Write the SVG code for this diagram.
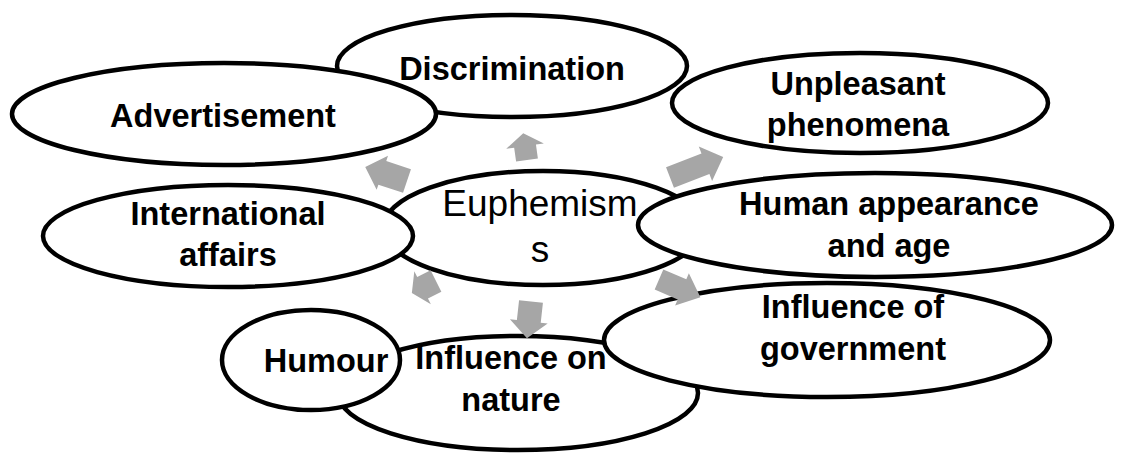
<svg xmlns="http://www.w3.org/2000/svg" width="1128" height="454" viewBox="0 0 1128 454">
  <defs>
    <style>
      .node ellipse { fill: #ffffff; stroke: #000000; stroke-width: 4.5; }
      .lbl { font-family: "Liberation Sans", Arial, sans-serif; font-weight: bold; font-size: 32.5px; fill: #000000; text-anchor: middle; }
      .center { font-family: "Liberation Sans", Arial, sans-serif; font-weight: normal; font-size: 37px; fill: #000000; text-anchor: middle; }
      .arrow { fill: #a6a6a6; stroke: none; }
    </style>
  </defs>
  <rect width="1128" height="454" fill="#ffffff"/>

  <g id="node-discrimination" class="node">
    <ellipse cx="512" cy="66" rx="175" ry="51"/>
    <text class="lbl" x="512" y="80">Discrimination</text>
  </g>
  <g id="node-advertisement" class="node">
    <ellipse cx="224" cy="114" rx="212" ry="51"/>
    <text class="lbl" x="223" y="127">Advertisement</text>
  </g>
  <g id="node-unpleasant" class="node">
    <ellipse cx="860" cy="103" rx="188" ry="50"/>
    <text class="lbl" x="858" y="95">Unpleasant</text>
    <text class="lbl" x="858" y="136">phenomena</text>
  </g>
  <g id="node-euphemisms" class="node">
    <ellipse cx="543" cy="228" rx="160" ry="57"/>
    <text class="center" x="540" y="216">Euphemism</text>
    <text class="center" x="540" y="262">s</text>
  </g>
  <g id="node-international" class="node">
    <ellipse cx="228" cy="236" rx="185" ry="51"/>
    <text class="lbl" x="228" y="225">International</text>
    <text class="lbl" x="228" y="266">affairs</text>
  </g>
  <g id="node-human" class="node">
    <ellipse cx="875" cy="225" rx="237" ry="52"/>
    <text class="lbl" x="889" y="215">Human appearance</text>
    <text class="lbl" x="889" y="257">and age</text>
  </g>
  <g id="node-nature" class="node">
    <ellipse cx="518" cy="393" rx="180" ry="57"/>
    <text class="lbl" x="511" y="369">Influence on</text>
    <text class="lbl" x="511" y="411">nature</text>
  </g>
  <g id="node-humour" class="node">
    <ellipse cx="311" cy="360" rx="89" ry="50"/>
    <text class="lbl" x="326" y="372">Humour</text>
  </g>
  <g id="node-government" class="node">
    <ellipse cx="827" cy="340" rx="223" ry="57"/>
    <text class="lbl" x="853" y="318">Influence of</text>
    <text class="lbl" x="853" y="360">government</text>
  </g>

  <g id="connectors">
    <polygon class="arrow" transform="translate(527,160) rotate(-98)" points="0,-11 14,-11 14,-19 27,0 14,19 14,11 0,11"/>
    <polygon class="arrow" transform="translate(407,181) rotate(198.4)" points="0,-12.5 26,-12.5 26,-18 44,0 26,18 26,12.5 0,12.5"/>
    <polygon class="arrow" transform="translate(670,177.5) rotate(-21.1)" points="0,-11 38,-11 38,-18.5 57,0 38,18.5 38,11 0,11"/>
    <polygon class="arrow" transform="translate(436,281) rotate(153.4)" points="0,-12 15,-12 15,-18.5 27,0 15,18.5 15,12 0,12"/>
    <polygon class="arrow" transform="translate(531,301.5) rotate(96.3)" points="0,-12 20,-12 20,-19 37,0 20,19 20,12 0,12"/>
    <polygon class="arrow" transform="translate(659,279.5) rotate(23.1)" points="0,-11 25,-11 25,-17.5 45,0 25,17.5 25,11 0,11"/>
  </g>
</svg>
